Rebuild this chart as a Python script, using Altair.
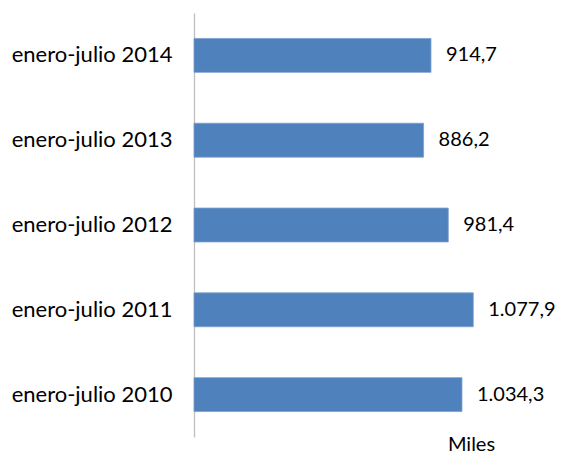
import altair as alt
import pandas as pd

categories = ["enero-julio 2014", "enero-julio 2013", "enero-julio 2012", "enero-julio 2011", "enero-julio 2010"]
values = [914.7, 886.2, 981.4, 1077.9, 1034.3]

def es_fmt(v):
    s = f"{v:,.1f}"
    return s.replace(",", "X").replace(".", ",").replace("X", ".")

labels = [es_fmt(v) for v in values]
df = pd.DataFrame({"periodo": categories, "valor": values, "etiqueta": labels})

FONT = "Lato"
FS = 22

y_enc = alt.Y("periodo:N", sort=categories,
              scale=alt.Scale(paddingInner=0.6, paddingOuter=0.3),
              axis=alt.Axis(title=None, ticks=False, labelPadding=22, labelFont=FONT,
                            labelFontSize=FS, labelColor="#000000", domainColor="#BFBFBF",
                            domainWidth=1.3, labelLimit=300))
x_enc = alt.X("valor:Q", scale=alt.Scale(domain=[0, 1100], nice=False),
              axis=alt.Axis(title="Miles", labels=False, ticks=False, domain=False, grid=False,
                            titleFont=FONT, titleFontSize=20, titleFontWeight="normal",
                            titleColor="#000000", titleX=277, titleY=13,
                            titleBaseline="alphabetic", titleAlign="center"))

bars = alt.Chart(df).mark_bar(color="#4F81BD", stroke="#7A9FCE", strokeWidth=0.8).encode(x=x_enc, y=y_enc)
text = alt.Chart(df).mark_text(align="left", baseline="middle", dx=15, font=FONT, fontSize=20,
                               color="#000000").encode(
    x=alt.X("valor:Q"), y=alt.Y("periodo:N", sort=categories), text="etiqueta:N")

chart = (bars + text).properties(
    width=285, height=424,
    autosize=alt.AutoSizeParams(type="none"),
    padding={"left": 186, "top": 5, "right": 76, "bottom": 19},
).configure_view(stroke=None)

chart.save("out.html", embed_options={"renderer": "svg", "actions": False})
